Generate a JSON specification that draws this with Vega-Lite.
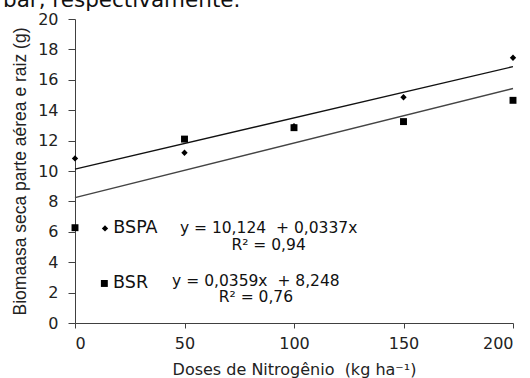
{
  "$schema": "https://vega.github.io/schema/vega-lite/v6.json",
  "autosize": "none",
  "width": 438,
  "height": 304,
  "padding": {"left": 75, "top": 19, "right": 17, "bottom": 55},
  "background": "white",
  "config": {
    "view": {"stroke": null},
    "font": "DejaVu Sans",
    "axis": {
      "grid": false,
      "domainColor": "#404040",
      "tickColor": "#404040",
      "labelColor": "#222222",
      "titleColor": "#222222",
      "labelFont": "DejaVu Sans",
      "titleFont": "DejaVu Sans",
      "labelFontSize": 16,
      "titleFontSize": 16,
      "titleFontWeight": "normal"
    }
  },
  "title": {
    "text": "bar, respectivamente.",
    "anchor": "start",
    "frame": "group",
    "fontSize": 21.5,
    "fontWeight": "normal",
    "font": "DejaVu Sans",
    "color": "#111111",
    "baseline": "alphabetic",
    "offset": 0,
    "dx": -72,
    "dy": 17.5
  },
  "datasets": {
    "obs": [
      {"serie": "BSPA", "dose": 0, "biomassa": 10.83},
      {"serie": "BSPA", "dose": 50, "biomassa": 11.2},
      {"serie": "BSPA", "dose": 100, "biomassa": 12.95},
      {"serie": "BSPA", "dose": 150, "biomassa": 14.85},
      {"serie": "BSPA", "dose": 200, "biomassa": 17.45},
      {"serie": "BSR", "dose": 0, "biomassa": 6.27},
      {"serie": "BSR", "dose": 50, "biomassa": 12.1},
      {"serie": "BSR", "dose": 100, "biomassa": 12.85},
      {"serie": "BSR", "dose": 150, "biomassa": 13.25},
      {"serie": "BSR", "dose": 200, "biomassa": 14.65}
    ],
    "fit": [
      {"serie": "BSPA", "dose": 0, "biomassa": 10.124},
      {"serie": "BSPA", "dose": 200, "biomassa": 16.864},
      {"serie": "BSR", "dose": 0, "biomassa": 8.248},
      {"serie": "BSR", "dose": 200, "biomassa": 15.428}
    ],
    "keys": [
      {"serie": "BSPA", "dose": 13.7, "biomassa": 6.22},
      {"serie": "BSR", "dose": 13.4, "biomassa": 2.6}
    ],
    "names": [
      {"texto": "BSPA", "dose": 17.5, "biomassa": 6.22},
      {"texto": "BSR", "dose": 17.4, "biomassa": 2.62}
    ],
    "eqs": [
      {"texto": "y = 10,124\u00a0 + 0,0337x", "dose": 88.4, "biomassa": 6.25},
      {"texto": "R² = 0,94", "dose": 88.4, "biomassa": 5.13},
      {"texto": "y = 0,0359x\u00a0 + 8,248", "dose": 82.6, "biomassa": 2.78},
      {"texto": "R² = 0,76", "dose": 82.6, "biomassa": 1.69}
    ]
  },
  "encoding": {
    "x": {
      "field": "dose",
      "type": "quantitative",
      "scale": {"domain": [0, 200], "nice": false},
      "axis": {
        "title": "Doses de Nitrogênio\u00a0 (kg ha⁻¹)",
        "values": [0, 50, 100, 150, 200],
        "tickSize": 5,
        "labelPadding": 7,
        "titlePadding": 10
      }
    },
    "y": {
      "field": "biomassa",
      "type": "quantitative",
      "scale": {"domain": [0, 20], "nice": false},
      "axis": {
        "title": "Biomaasa seca parte aérea e raiz (g)",
        "titleFont": "Liberation Sans",
        "titleFontSize": 17.5,
        "values": [0, 2, 4, 6, 8, 10, 12, 14, 16, 18, 20],
        "tickSize": 7,
        "labelPadding": 10,
        "titlePadding": 8
      }
    }
  },
  "layer": [
    {
      "data": {"name": "fit"},
      "mark": {"type": "line", "strokeWidth": 1.4},
      "encoding": {
        "detail": {"field": "serie"},
        "color": {
          "field": "serie",
          "type": "nominal",
          "scale": {"domain": ["BSPA", "BSR"], "range": ["#111111", "#444444"]},
          "legend": null
        }
      }
    },
    {
      "data": {"name": "obs"},
      "mark": {"type": "point", "filled": true, "color": "#000000", "opacity": 1},
      "encoding": {
        "shape": {
          "field": "serie",
          "type": "nominal",
          "scale": {"domain": ["BSPA", "BSR"], "range": ["diamond", "square"]},
          "legend": null
        },
        "size": {
          "field": "serie",
          "type": "nominal",
          "scale": {"domain": ["BSPA", "BSR"], "range": [40, 48]},
          "legend": null
        }
      }
    },
    {
      "data": {"name": "keys"},
      "mark": {"type": "point", "filled": true, "color": "#000000", "opacity": 1},
      "encoding": {
        "shape": {
          "field": "serie",
          "type": "nominal",
          "scale": {"domain": ["BSPA", "BSR"], "range": ["diamond", "square"]},
          "legend": null
        },
        "size": {
          "field": "serie",
          "type": "nominal",
          "scale": {"domain": ["BSPA", "BSR"], "range": [40, 48]},
          "legend": null
        }
      }
    },
    {
      "data": {"name": "names"},
      "mark": {"type": "text", "align": "left", "baseline": "middle", "fontSize": 17.5, "color": "#111111", "font": "DejaVu Sans"},
      "encoding": {"text": {"field": "texto"}}
    },
    {
      "data": {"name": "eqs"},
      "mark": {"type": "text", "align": "center", "baseline": "middle", "fontSize": 15.5, "color": "#111111", "font": "DejaVu Sans"},
      "encoding": {"text": {"field": "texto"}}
    }
  ]
}
